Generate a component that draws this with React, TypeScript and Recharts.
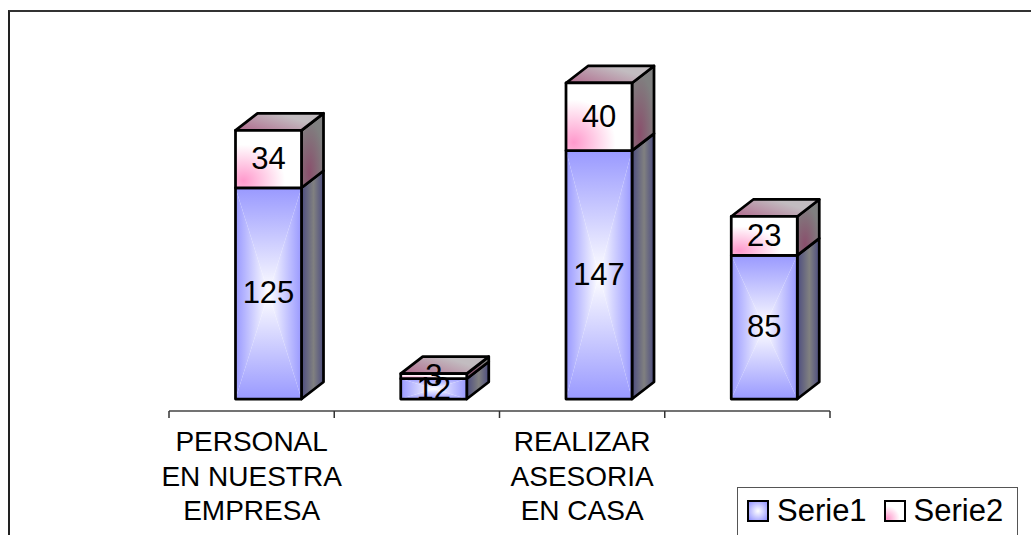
import React from 'react';
import { BarChart, Bar, XAxis, YAxis, Legend, LabelList } from 'recharts';

// values
const categories = ['a', 'b', 'c', 'd'];
const tickLabels = [['PERSONAL', 'EN NUESTRA', 'EMPRESA'], [], ['REALIZAR', 'ASESORIA', 'EN CASA'], []];
const serie1 = [125, 12, 147, 85];
const serie2 = [34, 3, 40, 23];
const edgeTicks = [0, 1, 2, 3, 4];

const data = categories.map((c, i) => ({ name: c, edge: i, Serie1: serie1[i], Serie2: serie2[i] }));

// old excel style 3d look: front face is shifted off the axis, depth goes up-right
const SHIFT_X = 16.5;
const SHIFT_Y = -12;
const DEPTH_X = 22;
const DEPTH_Y = 17;
const FONT = '"Liberation Sans", Arial, sans-serif';
const TICK_SIZE = 28;
const LABEL_SIZE = 31;

const Defs = () => (
  <svg width={0} height={0} style={{ position: 'absolute' }}>
    <defs>
      <linearGradient id="s1t" x1="0" y1="0" x2="0" y2="1"><stop offset="0" stopColor="#9999ff" /><stop offset="1" stopColor="#ffffff" /></linearGradient>
      <linearGradient id="s1b" x1="0" y1="1" x2="0" y2="0"><stop offset="0" stopColor="#9999ff" /><stop offset="1" stopColor="#ffffff" /></linearGradient>
      <linearGradient id="s1l" x1="0" y1="0" x2="1" y2="0"><stop offset="0" stopColor="#9999ff" /><stop offset="1" stopColor="#ffffff" /></linearGradient>
      <linearGradient id="s1r" x1="1" y1="0" x2="0" y2="0"><stop offset="0" stopColor="#9999ff" /><stop offset="1" stopColor="#ffffff" /></linearGradient>
      <linearGradient id="s1side" x1="0" y1="0" x2="1" y2="0"><stop offset="0" stopColor="#4d4d80" /><stop offset="0.55" stopColor="#808080" /><stop offset="1" stopColor="#4d4d80" /></linearGradient>
      <radialGradient id="s2front" cx="0.12" cy="0.88" r="0.9"><stop offset="0" stopColor="#ff99cc" /><stop offset="0.7" stopColor="#ffffff" /></radialGradient>
      <linearGradient id="s2top" x1="0" y1="1" x2="1" y2="0.4"><stop offset="0" stopColor="#b0688c" /><stop offset="0.8" stopColor="#c2bcc0" /></linearGradient>
      <radialGradient id="s2side" cx="0.35" cy="0.8" r="0.7"><stop offset="0" stopColor="#8a4f6c" /><stop offset="1" stopColor="#808080" /></radialGradient>
      <radialGradient id="legS1" cx="0.5" cy="0.5" r="0.6"><stop offset="0" stopColor="#ffffff" /><stop offset="1" stopColor="#9999ff" /></radialGradient>
    </defs>
  </svg>
);

const Box = (props: any) => {
  const { x, y, width, height, top } = props;
  const x0 = x + SHIFT_X;
  const y0 = y + SHIFT_Y;
  const x1 = x0 + width;
  const y1 = y0 + height;
  const cx = x0 + width / 2;
  const cy = y0 + height / 2;
  const line = { stroke: '#000', strokeWidth: 2.75, strokeLinejoin: 'round' as const };
  return (
    <g>
      <polygon points={`${x1},${y0} ${x1 + DEPTH_X},${y0 - DEPTH_Y} ${x1 + DEPTH_X},${y1 - DEPTH_Y} ${x1},${y1}`} fill={top ? 'url(#s2side)' : 'url(#s1side)'} {...line} />
      {top && <polygon points={`${x0},${y0} ${x0 + DEPTH_X},${y0 - DEPTH_Y} ${x1 + DEPTH_X},${y0 - DEPTH_Y} ${x1},${y0}`} fill="url(#s2top)" {...line} />}
      {top ? (
        <rect x={x0} y={y0} width={width} height={height} fill="url(#s2front)" />
      ) : (
        <g>
          <polygon points={`${x0},${y0} ${x1},${y0} ${cx},${cy}`} fill="url(#s1t)" />
          <polygon points={`${x0},${y1} ${x1},${y1} ${cx},${cy}`} fill="url(#s1b)" />
          <polygon points={`${x0},${y0} ${x0},${y1} ${cx},${cy}`} fill="url(#s1l)" />
          <polygon points={`${x1},${y0} ${x1},${y1} ${cx},${cy}`} fill="url(#s1r)" />
        </g>
      )}
      <rect x={x0} y={y0} width={width} height={height} fill="none" {...line} />
    </g>
  );
};

const BarLabel = (props: any) => {
  const { viewBox, value } = props;
  return (
    <text x={viewBox.x + viewBox.width / 2 + SHIFT_X} y={viewBox.y + viewBox.height / 2 + SHIFT_Y} dy="0.32em" textAnchor="middle" fontSize={LABEL_SIZE} fontFamily={FONT} fill="#000">
      {value}
    </text>
  );
};

const CatTick = (props: any) => {
  const { x, index } = props;
  const lines = tickLabels[index] || [];
  return (
    <text textAnchor="middle" fontSize={TICK_SIZE} fontFamily={FONT} fill="#000">
      {lines.map((l, i) => (
        <tspan key={i} x={x} y={451 + i * 34.5}>{l}</tspan>
      ))}
    </text>
  );
};

// tick={false} also drops the tick marks, so keep them with an empty tick
const NoTickText = () => <g />;

const LegendBox = (props: any) => (
  <div style={{ display: 'flex', alignItems: 'center', height: 48, boxSizing: 'border-box', border: '1px solid #555', borderBottom: 'none', background: '#fff', fontFamily: FONT, fontSize: LABEL_SIZE, color: '#000', paddingLeft: 9, paddingBottom: 2 }}>
    {props.payload.map((p: any, i: number) => (
      <span key={p.value} style={{ display: 'flex', alignItems: 'center', marginRight: i === 0 ? 17 : 0 }}>
        <svg width={22} height={22} style={{ marginRight: 8 }}>
          <rect x={1} y={1} width={20} height={20} fill={i === 0 ? 'url(#legS1)' : 'url(#s2front)'} stroke="#000" strokeWidth={2} />
        </svg>
        {p.value}
      </span>
    ))}
  </div>
);

export default function App() {
  return (
    <div style={{ position: 'absolute', left: 0, top: 0, width: 1031, height: 535, overflow: 'hidden', background: '#fff' }}>
      <div style={{ position: 'absolute', left: 8, top: 10, width: 1023, height: 525, borderLeft: '2px solid #222', borderTop: '2px solid #333', boxSizing: 'border-box' }} />
      <Defs />
      <BarChart width={1031} height={535} data={data} margin={{ top: 73, right: 201, bottom: 0, left: 169 }} barSize={66} style={{ position: 'absolute', left: 0, top: 0 }}>
        <XAxis xAxisId={0} dataKey="edge" type="number" domain={[0, 4]} allowDataOverflow ticks={edgeTicks} interval={0} tick={<NoTickText />} tickLine={{ stroke: '#333' }} height={6} tickSize={7} stroke="#444" strokeWidth={1.5} />
        <XAxis xAxisId={1} dataKey="name" axisLine={false} tickLine={false} height={118} tick={<CatTick />} interval={0} />
        <YAxis hide domain={[0, 200]} />
        <Legend layout="horizontal" verticalAlign="middle" align="center" content={<LegendBox />} wrapperStyle={{ left: 737, top: 487, width: 281, height: 48 }} />
        <Bar dataKey="Serie1" xAxisId={1} stackId="a" isAnimationActive={false} shape={<Box />}>
          <LabelList dataKey="Serie1" content={<BarLabel />} />
        </Bar>
        <Bar dataKey="Serie2" xAxisId={1} stackId="a" isAnimationActive={false} shape={<Box top />}>
          <LabelList dataKey="Serie2" content={<BarLabel />} />
        </Bar>
      </BarChart>
    </div>
  );
}
